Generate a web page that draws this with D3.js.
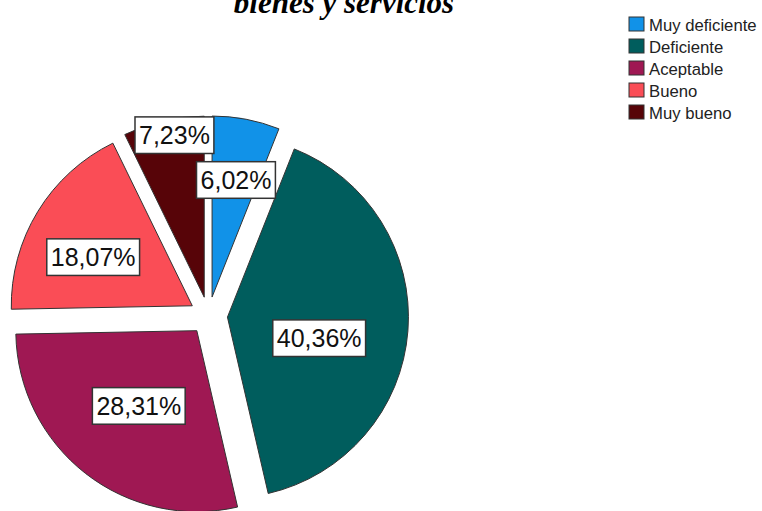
<!DOCTYPE html>
<html>
<head>
<meta charset="utf-8">
<script src="https://cdn.jsdelivr.net/npm/d3@7"></script>
<style>
  body { margin: 0; background: #fff; }
  svg { display: block; }
</style>
</head>
<body>
<script>
// chart data
var categories = ["Muy deficiente", "Deficiente", "Aceptable", "Bueno", "Muy bueno"];
var percents = [6.02, 40.36, 28.31, 18.07, 7.23];
var colors = ["#1192e8", "#005d5d", "#9f1853", "#fa4d56", "#570408"];
var titleText = "bienes y servicios";

// label placement: distance from the slice tip (fraction of radius) and a small angle shift (deg)
var labelDist = [0.66, 0.52, 0.525, 0.61, 0.91];
var labelShift = [0.7, 8.6, -0.3, -5.3, 2.6];

var W = 762, H = 511;
var cx = 208.5, cy = 315.7, R = 181, explode = 19;

var svg = d3.select("body").append("svg").attr("width", W).attr("height", H);

// title (first line is off the top of the picture)
svg.append("text")
  .attr("x", 344).attr("y", 13)
  .attr("text-anchor", "middle")
  .attr("font-family", "Liberation Serif, Times New Roman, serif")
  .attr("font-weight", "bold").attr("font-style", "italic")
  .attr("font-size", 31)
  .text(titleText);

var data = categories.map(function(c, i){ return {cat: c, v: percents[i], col: colors[i], i: i}; });

var pie = d3.pie().sort(null).value(function(d){ return d.v; });
var arc = d3.arc().innerRadius(0).outerRadius(R);
var arcs = pie(data);

var g = svg.append("g").attr("transform", "translate(" + cx + "," + cy + ")");

function dir(a){ return [Math.sin(a), -Math.cos(a)]; }
function shift(d){
  var m = dir((d.startAngle + d.endAngle) / 2);
  return [m[0] * explode, m[1] * explode];
}

g.selectAll(".slice").data(arcs).enter().append("path")
  .attr("class", "slice")
  .attr("transform", function(d){ return "translate(" + shift(d) + ")"; })
  .attr("d", arc)
  .attr("fill", function(d){ return d.data.col; })
  .attr("stroke", "#333")
  .attr("stroke-width", 1)
  .attr("stroke-linejoin", "round");

// labels in white boxes, drawn over all slices
var lab = g.selectAll(".lab").data(arcs).enter().append("g")
  .attr("class", "lab")
  .attr("transform", function(d){
    var i = d.data.i, s = shift(d);
    var a = (d.startAngle + d.endAngle) / 2 + labelShift[i] * Math.PI / 180;
    var m = dir(a), r = labelDist[i] * R;
    return "translate(" + (s[0] + m[0] * r) + "," + (s[1] + m[1] * r) + ")";
  });

lab.append("text")
  .attr("text-anchor", "middle")
  .attr("dy", "0.36em")
  .attr("font-family", "Liberation Sans, Arial, sans-serif")
  .attr("font-size", 25)
  .attr("fill", "#111")
  .text(function(d){ return d3.format(".2f")(d.data.v).replace(".", ",") + "%"; });

lab.each(function(){
  var gg = d3.select(this), bb = gg.select("text").node().getBBox();
  gg.insert("rect", "text")
    .attr("x", bb.x - 4).attr("y", -18.3)
    .attr("width", bb.width + 8).attr("height", 36.6)
    .attr("fill", "#fff")
    .attr("stroke", "#333").attr("stroke-width", 1.5);
});

// legend
var leg = svg.append("g").attr("transform", "translate(629,17)");
var item = leg.selectAll(".item").data(data).enter().append("g")
  .attr("transform", function(d, i){ return "translate(0," + (i * 22) + ")"; });
item.append("rect")
  .attr("width", 15).attr("height", 14)
  .attr("fill", function(d){ return d.col; })
  .attr("stroke", "#333").attr("stroke-width", 1);
item.append("text")
  .attr("x", 20).attr("y", 8).attr("dy", "0.36em")
  .attr("font-family", "Liberation Sans, Arial, sans-serif")
  .attr("font-size", 16.7)
  .attr("fill", "#222")
  .text(function(d){ return d.cat; });
</script>
</body>
</html>
